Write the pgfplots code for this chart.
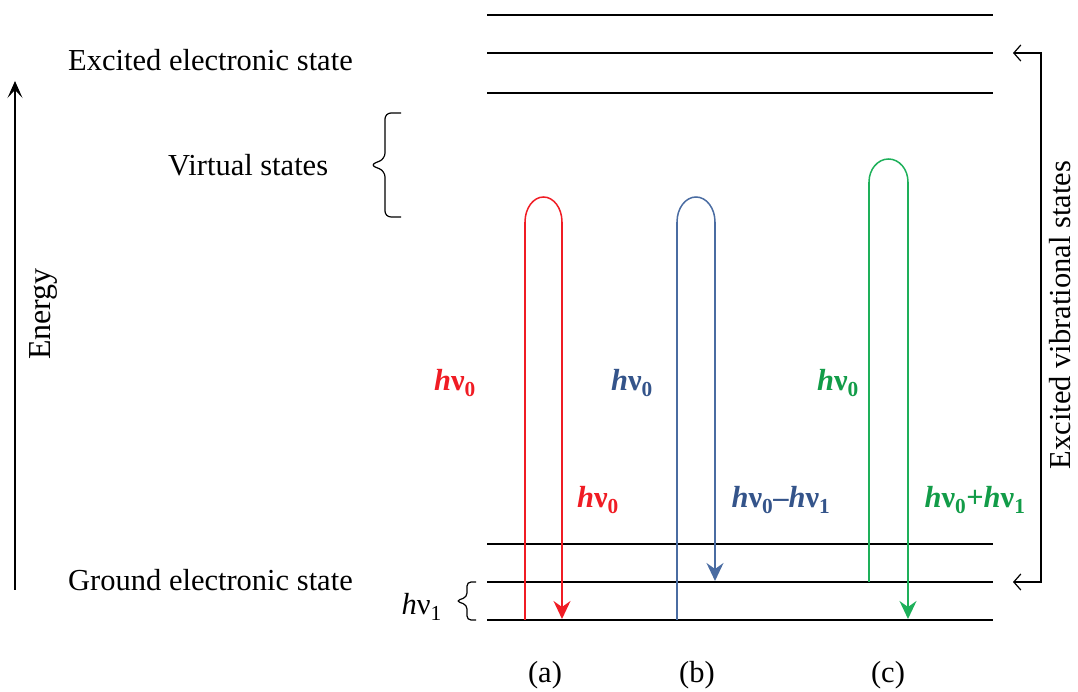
\documentclass[border=0pt]{standalone}
\usepackage{fontspec}
\setmainfont{Liberation Serif}
\usepackage{pgfplots}
\pgfplotsset{compat=1.18}
\usetikzlibrary{arrows.meta}
\definecolor{rline}{RGB}{240,28,36}
\definecolor{bline}{RGB}{74,108,162}
\definecolor{btext}{RGB}{52,84,138}
\definecolor{gline}{RGB}{30,176,90}
\definecolor{gtext}{RGB}{18,156,72}
\newcommand{\hn}[1]{\textit{h}ν\textsubscript{#1}}
\tikzset{lab/.style={font=\fontsize{30.5}{36}\selectfont, inner sep=0pt},
  harrow/.style={-{Stealth[length=18pt,width=17pt,inset=6pt]}}}
\begin{document}
\begin{tikzpicture}
\begin{axis}[x=1pt, y=1pt, xmin=0, xmax=1078, ymin=0, ymax=692, hide axis, clip=false]
% bounding box
\addplot[draw=none, forget plot] coordinates {(0,0) (1078,692)};
% excited electronic state levels
\addplot[black, line width=1.3pt] coordinates {(487,677) (993,677)};
\addplot[black, line width=1.3pt] coordinates {(487,639) (993,639)};
\addplot[black, line width=1.3pt] coordinates {(487,599) (993,599)};
% ground electronic state levels
\addplot[black, line width=1.3pt] coordinates {(487,148) (993,148)};
\addplot[black, line width=1.3pt] coordinates {(487,110) (993,110)};
\addplot[black, line width=1.3pt] coordinates {(487,72) (993,72)};
% energy arrow
\addplot[black, line width=1.2pt, -{Stealth[length=17pt,width=15pt,inset=8pt]}] coordinates {(15,102) (15,611)};
% right bracket
\addplot[black, line width=1.2pt, {Straight Barb[length=7pt,width=16pt]}-{Straight Barb[length=7pt,width=16pt]}] coordinates {(1013,639) (1041,639) (1041,110) (1013,110)};
% (a) red
\addplot[rline, line width=1.5pt] coordinates {(525,72) (525,470)};
\draw[rline, line width=1.5pt] (axis cs:525,470) arc[start angle=180, end angle=0, x radius=18.5pt, y radius=25pt];
\addplot[rline, line width=1.5pt, harrow] coordinates {(562,470) (562,73)};
% (b) blue
\addplot[bline, line width=1.5pt] coordinates {(677,72) (677,470)};
\draw[bline, line width=1.5pt] (axis cs:677,470) arc[start angle=180, end angle=0, x radius=19pt, y radius=25pt];
\addplot[bline, line width=1.5pt, harrow] coordinates {(715,470) (715,111)};
% (c) green
\addplot[gline, line width=1.5pt] coordinates {(869,110) (869,510)};
\draw[gline, line width=1.5pt] (axis cs:869,510) arc[start angle=180, end angle=0, x radius=19.5pt, y radius=23pt];
\addplot[gline, line width=1.5pt, harrow] coordinates {(908,510) (908,73)};
% braces (bracket style)
\addplot[black, line width=1.2pt, rounded corners=6pt] coordinates {(401,579) (385,579) (385,533) (370,527) (385,521) (385,475) (401,475)};
\addplot[black, line width=1.2pt, rounded corners=4pt] coordinates {(476,110) (467,110) (467,95) (456,91) (467,87) (467,72) (476,72)};
% labels
\node[lab, anchor=west] at (axis cs:68,632) {Excited electronic state};
\node[lab, anchor=west] at (axis cs:168,527) {Virtual states};
\node[lab, anchor=west] at (axis cs:68,112) {Ground electronic state};
\node[lab, rotate=90, font=\fontsize{32}{36}\selectfont] at (axis cs:43,378) {Energy};
\node[lab, rotate=90] at (axis cs:1060,377) {Excited vibrational states};
\node[lab, anchor=east] at (axis cs:442,85) {\hn{1}};
\node[lab, text=rline, font=\fontsize{30.5}{36}\selectfont\bfseries] at (axis cs:455,309) {\hn{0}};
\node[lab, text=btext, font=\fontsize{30.5}{36}\selectfont\bfseries] at (axis cs:632,309) {\hn{0}};
\node[lab, text=gtext, font=\fontsize{30.5}{36}\selectfont\bfseries] at (axis cs:838,309) {\hn{0}};
\node[lab, text=rline, font=\fontsize{30.5}{36}\selectfont\bfseries] at (axis cs:598,192) {\hn{0}};
\node[lab, text=btext, font=\fontsize{30.5}{36}\selectfont\bfseries] at (axis cs:781,192) {\hn{0}\textendash\hn{1}};
\node[lab, text=gtext, font=\fontsize{30.5}{36}\selectfont\bfseries] at (axis cs:975,192) {\hn{0}+\hn{1}};
\node[lab] at (axis cs:545,17) {(a)};
\node[lab] at (axis cs:697,17) {(b)};
\node[lab] at (axis cs:888,17) {(c)};
\end{axis}
\end{tikzpicture}
\end{document}
